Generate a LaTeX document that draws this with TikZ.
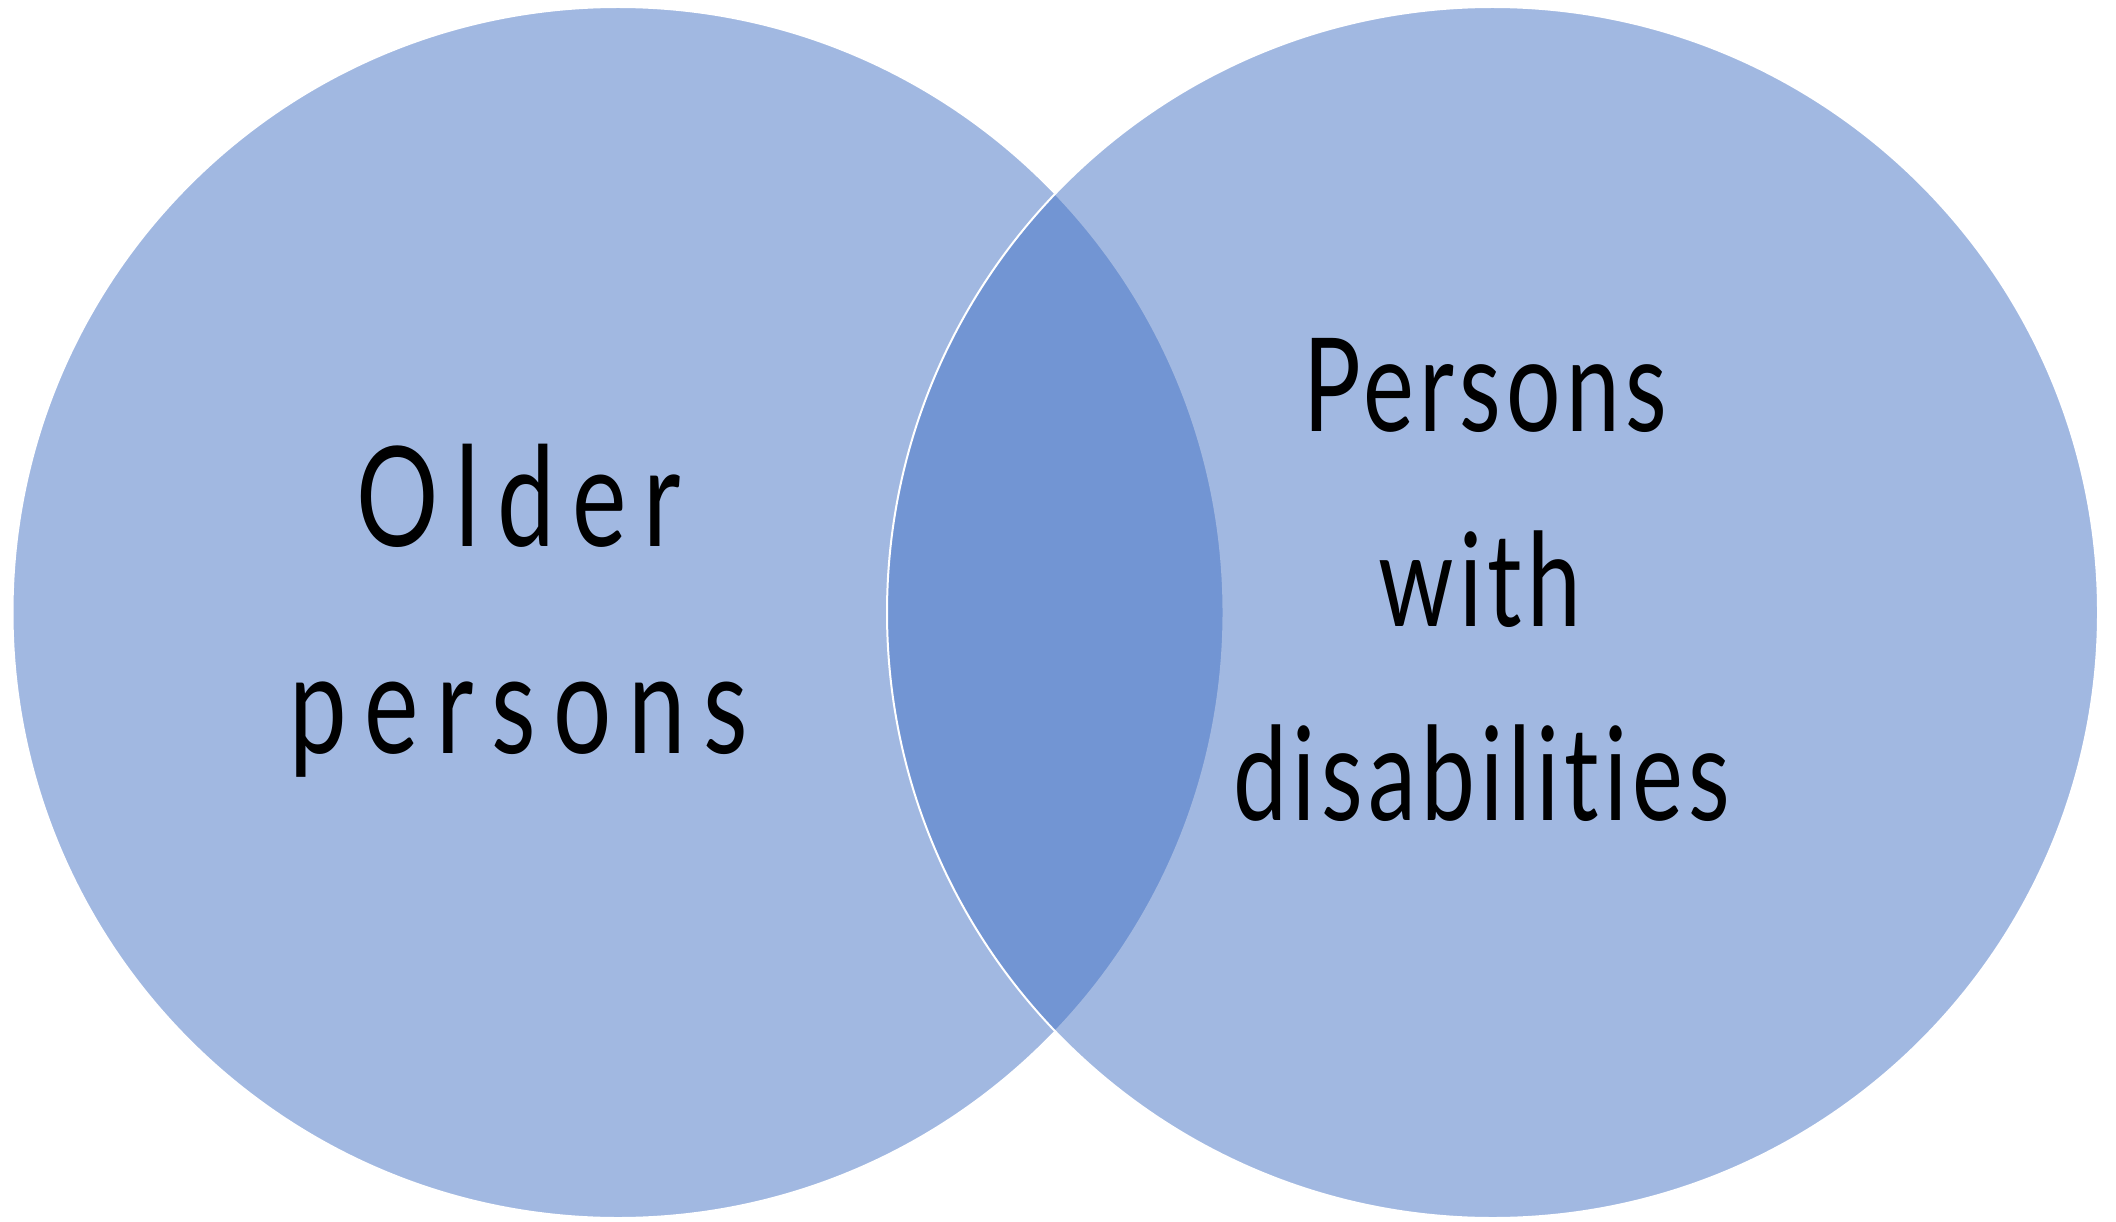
\documentclass[tikz,border=0pt]{standalone}
\usepackage{fontspec}
\setmainfont{Lato}[FakeStretch=0.74,Ligatures={NoCommon,NoRare}]
\definecolor{vennblue}{HTML}{4472C4}
\tikzset{
  venn/.style={draw=white, line width=2pt, fill=vennblue, fill opacity=0.5},
  biglabel/.style={anchor=base, inner sep=0pt, text=black, font=\fontsize{139pt}{160pt}\selectfont\addfontfeature{LetterSpace=12.5}},
  smalllabel/.style={anchor=base, inner sep=0pt, text=black, font=\fontsize{130pt}{150pt}\selectfont\addfontfeature{LetterSpace=4}}
}
\begin{document}
\begin{tikzpicture}[x=1pt,y=-1pt]
\useasboundingbox (0,0) rectangle (2116,1222);
\path[venn] (618,612.5) circle[radius=605.5];
\path[venn] (1492.5,612.5) circle[radius=605.5];
\node[biglabel] (older1) at (519,546) {Older};
\node[biglabel] (older2) at (519,753) {persons};
\node[smalllabel] (pwd1) at (1485,431) {Persons};
\node[smalllabel] (pwd2) at (1480,626) {with};
\node[smalllabel] (pwd3) at (1482,820) {disabilities};
\end{tikzpicture}
\end{document}
